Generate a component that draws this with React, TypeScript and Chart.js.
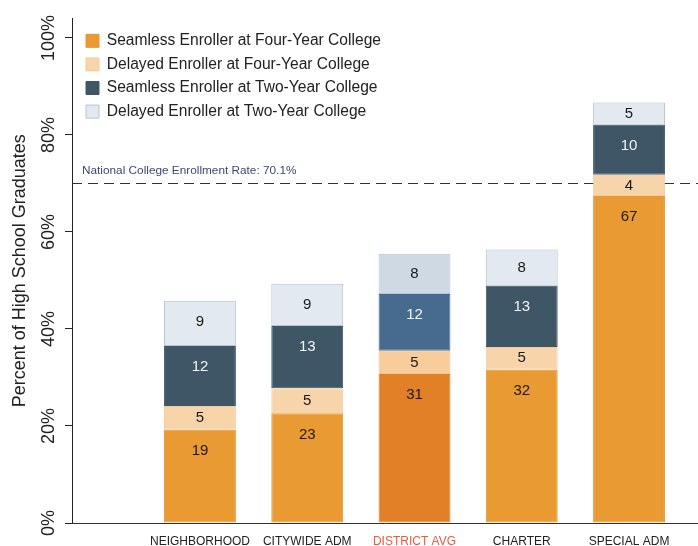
import React, { useEffect, useRef } from 'react';
import { Chart, registerables } from 'chart.js';

Chart.register(...registerables);

const categories = ['NEIGHBORHOOD', 'CITYWIDE ADM', 'DISTRICT AVG', 'CHARTER', 'SPECIAL ADM'];
const seamlessFourYear = [19.2, 22.6, 30.7, 31.6, 67.4];
const delayedFourYear = [4.9, 5.2, 4.8, 4.7, 4.4];
const seamlessTwoYear = [12.4, 12.8, 11.7, 12.6, 10.3];
const delayedTwoYear = [9.3, 8.7, 8.3, 7.5, 4.6];
const seriesNames = [
  'Seamless Enroller at Four-Year College',
  'Delayed Enroller at Four-Year College',
  'Seamless Enroller at Two-Year College',
  'Delayed Enroller at Two-Year College',
];
const yTicks = [0, 20, 40, 60, 80, 100];
const nationalRate = 70.1;
const nationalLabel = 'National College Enrollment Rate: 70.1%';
const highlightCategory = 'DISTRICT AVG';
const yTitle = 'Percent of High School Graduates';

const FONT = '"Liberation Sans", Arial, Helvetica, sans-serif';

const pick = (normal: string, hi: string) =>
  categories.map((c) => (c === highlightCategory ? hi : normal));

const refLinePlugin = {
  id: 'refLine',
  beforeDatasetsDraw(chart: any) {
    const { ctx, chartArea } = chart;
    const y = chart.scales.y.getPixelForValue(nationalRate);
    ctx.save();
    ctx.strokeStyle = '#2b3247';
    ctx.lineWidth = 1;
    ctx.setLineDash([10, 6]);
    ctx.beginPath();
    ctx.moveTo(chartArea.left, Math.round(y) + 0.5);
    ctx.lineTo(chartArea.right, Math.round(y) + 0.5);
    ctx.stroke();
    ctx.setLineDash([]);
    ctx.fillStyle = '#3a4a70';
    ctx.font = `11.8px ${FONT}`;
    ctx.textAlign = 'left';
    ctx.textBaseline = 'alphabetic';
    ctx.fillText(nationalLabel, chartArea.left + 10, y - 9);
    ctx.restore();
  },
};

const legendPlacePlugin = {
  id: 'legendPlace',
  afterLayout(chart: any) {
    const lg = chart.legend;
    if (!lg) return;
    const h = lg.height;
    lg.left = chart.chartArea.left + 6;
    lg.top = 25;
    lg.bottom = lg.top + h;
  },
};

const barLabelPlugin = {
  id: 'barLabels',
  afterDatasetsDraw(chart: any) {
    const { ctx } = chart;
    ctx.save();
    ctx.font = `15px ${FONT}`;
    ctx.textAlign = 'center';
    ctx.textBaseline = 'middle';
    chart.data.datasets.forEach((ds: any, di: number) => {
      const meta = chart.getDatasetMeta(di);
      meta.data.forEach((el: any, i: number) => {
        const { x, y, base } = el.getProps(['x', 'y', 'base'], true);
        const top = Math.min(y, base);
        const bottom = Math.max(y, base);
        const cy = Math.min((top + bottom) / 2, top + 21);
        ctx.fillStyle = di === 2 ? '#f2f4f7' : '#1a1a1a';
        ctx.fillText(String(Math.round(ds.data[i].y)), x, cy);
      });
    });
    ctx.restore();
  },
};

export default function App() {
  const ref = useRef<HTMLCanvasElement>(null);

  useEffect(() => {
    if (!ref.current) return;
    Chart.defaults.font.family = FONT;
    const toPts = (arr: number[]) => arr.map((v, i) => ({ x: i + 1, y: v }));
    const chart = new Chart(ref.current, {
      type: 'bar',
      data: {
        datasets: [
          {
            label: seriesNames[0],
            data: toPts(seamlessFourYear),
            backgroundColor: pick('#e99a33', '#e18026'),
            borderColor: pick('#e69532', '#de7c22'),
            borderWidth: 1,
          },
          {
            label: seriesNames[1],
            data: toPts(delayedFourYear),
            backgroundColor: pick('#f7d4a9', '#f8cc9b'),
            borderColor: pick('#f3cc9d', '#f3c48f'),
            borderWidth: 1,
          },
          {
            label: seriesNames[2],
            data: toPts(seamlessTwoYear),
            backgroundColor: pick('#3f5667', '#476b8e'),
            borderColor: pick('#3f5667', '#476b8e'),
            borderWidth: 1,
          },
          {
            label: seriesNames[3],
            data: toPts(delayedTwoYear),
            backgroundColor: pick('#e2e9f0', '#cfd9e3'),
            borderColor: pick('#b6c3d0', '#b6c3d0'),
            borderWidth: 1,
          },
        ],
      } as any,
      options: {
        animation: false,
        responsive: false,
        maintainAspectRatio: false,
        layout: { padding: { top: 18.5, left: 0, right: 0, bottom: 0 } },
        datasets: { bar: { categoryPercentage: 1, barPercentage: 0.67, borderSkipped: false } },
        plugins: {
          tooltip: { enabled: false },
          legend: {
            position: 'chartArea' as any,
            align: 'start',
            labels: {
              color: '#222',
              font: { size: 15.6, family: FONT },
              boxWidth: 13,
              boxHeight: 13,
              padding: 8,
            },
          },
        },
        scales: {
          x: {
            type: 'linear',
            stacked: true,
            offset: false,
            min: -0.193,
            max: 5.643,
            afterBuildTicks: (scale: any) => {
              scale.ticks = categories.map((_, i) => ({ value: i + 1 }));
            },
            afterFit: (scale: any) => {
              scale.height = 23;
            },
            grid: { display: false, offset: false },
            border: { display: true, color: '#333', width: 1 },
            ticks: {
              autoSkip: false,
              maxRotation: 0,
              minRotation: 0,
              padding: 3,
              font: { size: 12, family: FONT },
              color: (c: any) =>
                categories[(c.tick?.value ?? 0) - 1] === highlightCategory ? '#ea5a3c' : '#222',
              callback: (v: any) => categories[Number(v) - 1] ?? '',
            },
          },
          y: {
            type: 'linear',
            stacked: true,
            min: 0,
            max: 104,
            afterBuildTicks: (scale: any) => {
              scale.ticks = yTicks.map((v) => ({ value: v }));
            },
            afterFit: (scale: any) => {
              scale.width = 72;
            },
            grid: {
              drawOnChartArea: false,
              drawTicks: true,
              tickLength: 7,
              color: '#222',
            },
            border: { display: true, color: '#222', width: 1 },
            ticks: {
              minRotation: 90,
              maxRotation: 90,
              crossAlign: 'center',
              padding: -7.5,
              color: '#222',
              font: { size: 18, family: FONT },
              callback: (v: any) => `${v}%`,
            },
            title: {
              display: true,
              text: yTitle,
              color: '#222',
              font: { size: 18, family: FONT },
              padding: { top: 9, bottom: 0 },
            },
          },
        },
      } as any,
      plugins: [legendPlacePlugin, refLinePlugin, barLabelPlugin],
    });
    return () => chart.destroy();
  }, []);

  return (
    <div style={{ position: 'absolute', left: 0, top: 0, width: 698, height: 546, background: '#fff' }}>
      <canvas ref={ref} width={698} height={546} style={{ display: 'block' }} />
    </div>
  );
}
